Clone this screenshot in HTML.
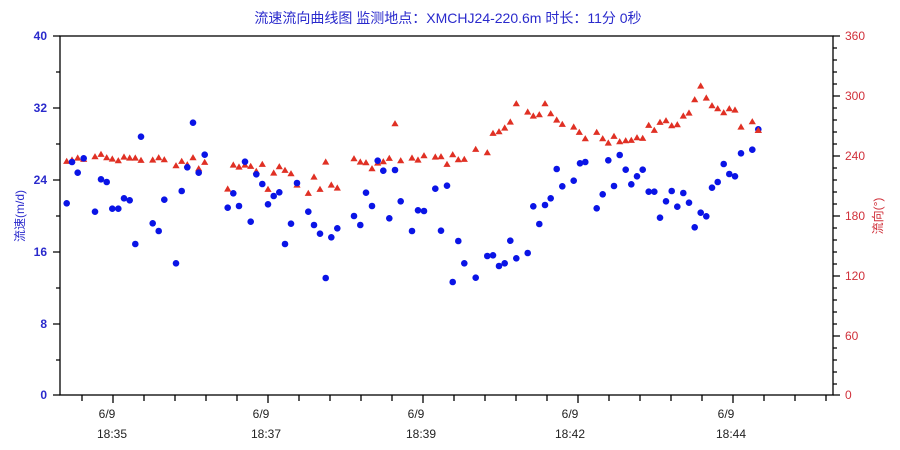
<!DOCTYPE html>
<html><head><meta charset="utf-8"><style>
html,body{margin:0;padding:0;background:#fff;width:900px;height:450px;overflow:hidden}
text{font-family:"Liberation Sans","Noto Sans CJK SC",sans-serif}
</style></head><body>
<svg width="900" height="450" xmlns="http://www.w3.org/2000/svg">
<defs>
<circle id="b" r="3.3" fill="#0a14e6"/>
<polygon id="t" points="0,-3.6 3.6,2.6 -3.6,2.6" fill="#e03024"/>
</defs>
<text x="448" y="23" text-anchor="middle" font-size="14" fill="#2a2acc">流速流向曲线图 监测地点：XMCHJ24-220.6m  时长：11分 0秒</text>
<g stroke="#000" stroke-width="1.3" fill="none">
<rect x="60" y="36" width="773" height="359"/>
<path d="M53,36H60M53,108H60M53,180H60M53,252H60M53,324H60M53,395H60M56,72H60M56,144H60M56,216H60M56,288H60M56,360H60"/>
<path d="M833,36H840M833,96H840M833,156H840M833,216H840M833,276H840M833,336H840M833,395H840"/>
<path d="M833,48H837M833,60H837M833,72H837M833,84H837M833,108H837M833,120H837M833,132H837M833,144H837M833,168H837M833,180H837M833,192H837M833,204H837M833,228H837M833,240H837M833,252H837M833,264H837M833,288H837M833,300H837M833,312H837M833,324H837M833,348H837M833,360H837M833,372H837M833,384H837"/>
<path d="M82,395V401M113,395V403M144,395V401M175,395V401M206,395V401M237,395V401M268,395V403M299,395V401M330,395V401M361,395V401M392,395V401M423,395V403M454,395V401M485,395V401M516,395V401M547,395V401M578,395V403M609,395V401M640,395V401M671,395V401M702,395V401M733,395V403M764,395V401M795,395V401M826,395V401"/>
</g>
<g font-size="12" font-weight="bold" fill="#2a2acc" text-anchor="end">
<text x="47" y="40">40</text><text x="47" y="112">32</text><text x="47" y="184">24</text><text x="47" y="256">16</text><text x="47" y="328">8</text><text x="47" y="399">0</text>
</g>
<g font-size="12" fill="#d0303a">
<text x="845" y="40">360</text><text x="845" y="100">300</text><text x="845" y="160">240</text><text x="845" y="220">180</text><text x="845" y="280">120</text><text x="845" y="340">60</text><text x="845" y="399">0</text>
</g>
<text transform="translate(24,216) rotate(-90)" text-anchor="middle" font-size="12" fill="#2a2acc">流速(m/d)</text>
<text transform="translate(882,216) rotate(-90)" text-anchor="middle" font-size="12" fill="#d0303a">流向(°)</text>
<g font-size="12" fill="#222" text-anchor="middle">
<text x="107" y="418">6/9</text><text x="112" y="438">18:35</text>
<text x="261" y="418">6/9</text><text x="266" y="438">18:37</text>
<text x="416" y="418">6/9</text><text x="421" y="438">18:39</text>
<text x="570" y="418">6/9</text><text x="570" y="438">18:42</text>
<text x="726" y="418">6/9</text><text x="731" y="438">18:44</text>
</g>
<g>
<use href="#t" x="66.7" y="161.3"/><use href="#t" x="72" y="160"/><use href="#t" x="77.7" y="158"/><use href="#t" x="83.7" y="159.3"/><use href="#t" x="95" y="156.7"/><use href="#t" x="101" y="154.3"/><use href="#t" x="106.7" y="157.7"/><use href="#t" x="112.3" y="159"/><use href="#t" x="118.3" y="160.7"/><use href="#t" x="124" y="157"/><use href="#t" x="129.7" y="158"/><use href="#t" x="135.3" y="158"/><use href="#t" x="141" y="160.3"/><use href="#t" x="152.7" y="160"/><use href="#t" x="158.7" y="157.7"/><use href="#t" x="164.3" y="159.7"/><use href="#t" x="176" y="165.7"/><use href="#t" x="181.7" y="161.3"/><use href="#t" x="187.3" y="164.7"/><use href="#t" x="193" y="157.7"/><use href="#t" x="198.7" y="168.7"/><use href="#t" x="204.7" y="162.3"/>
<use href="#t" x="227.7" y="189"/><use href="#t" x="233.3" y="165"/><use href="#t" x="239" y="167"/><use href="#t" x="245" y="165"/><use href="#t" x="250.7" y="166.3"/><use href="#t" x="256.3" y="171.3"/><use href="#t" x="262.3" y="164.3"/><use href="#t" x="268" y="189.3"/><use href="#t" x="273.7" y="173"/><use href="#t" x="279.3" y="166.7"/><use href="#t" x="285" y="170.3"/><use href="#t" x="291" y="173.7"/><use href="#t" x="297" y="185"/><use href="#t" x="308.3" y="193.3"/><use href="#t" x="314" y="177"/><use href="#t" x="320" y="189.3"/><use href="#t" x="325.7" y="162"/><use href="#t" x="331.3" y="185"/><use href="#t" x="337.3" y="188"/><use href="#t" x="354" y="158.7"/>
<use href="#t" x="360.3" y="162"/><use href="#t" x="366" y="162.7"/><use href="#t" x="372" y="168.7"/><use href="#t" x="377.7" y="163"/><use href="#t" x="383.3" y="161.7"/><use href="#t" x="389.3" y="158.3"/><use href="#t" x="395" y="123.7"/><use href="#t" x="400.7" y="160.7"/><use href="#t" x="412" y="158"/><use href="#t" x="418" y="160"/><use href="#t" x="424" y="155.7"/><use href="#t" x="435.3" y="157"/><use href="#t" x="441" y="156.7"/><use href="#t" x="447" y="164.3"/><use href="#t" x="452.7" y="154.7"/><use href="#t" x="458.3" y="159.7"/><use href="#t" x="464.3" y="159.3"/><use href="#t" x="475.7" y="149.3"/><use href="#t" x="487.3" y="152.7"/><use href="#t" x="493" y="133.3"/><use href="#t" x="499" y="131.7"/><use href="#t" x="504.7" y="128"/><use href="#t" x="510.3" y="122"/><use href="#t" x="516.3" y="103.7"/><use href="#t" x="527.7" y="112"/><use href="#t" x="533.3" y="116"/><use href="#t" x="539.3" y="114.7"/><use href="#t" x="545" y="103.7"/><use href="#t" x="550.7" y="113.7"/><use href="#t" x="556.7" y="120"/><use href="#t" x="562.3" y="124.3"/><use href="#t" x="573.7" y="127"/><use href="#t" x="579.3" y="132.3"/><use href="#t" x="585.3" y="138.7"/>
<use href="#t" x="596.7" y="132.3"/><use href="#t" x="602.7" y="138.7"/><use href="#t" x="608.3" y="143"/><use href="#t" x="614" y="136.3"/><use href="#t" x="619.7" y="141.7"/><use href="#t" x="625.7" y="140.7"/><use href="#t" x="631.3" y="140.3"/><use href="#t" x="637" y="137.7"/><use href="#t" x="642.7" y="138.3"/><use href="#t" x="648.7" y="125.3"/><use href="#t" x="654.3" y="130.3"/><use href="#t" x="660" y="122.3"/><use href="#t" x="666" y="120.7"/><use href="#t" x="671.7" y="125.7"/><use href="#t" x="677.3" y="124.7"/><use href="#t" x="683.3" y="116"/><use href="#t" x="689" y="113"/><use href="#t" x="694.7" y="99.7"/><use href="#t" x="700.7" y="86"/><use href="#t" x="706.3" y="98"/><use href="#t" x="712" y="105.7"/><use href="#t" x="717.7" y="108.7"/><use href="#t" x="723.7" y="112.7"/><use href="#t" x="729.3" y="108.7"/><use href="#t" x="735" y="110"/><use href="#t" x="741" y="127"/><use href="#t" x="752.3" y="121.7"/><use href="#t" x="758.3" y="130.3"/>
</g>
<g>
<use href="#b" x="66.7" y="203.3"/><use href="#b" x="72" y="162"/><use href="#b" x="77.7" y="172.7"/><use href="#b" x="83.7" y="158.3"/><use href="#b" x="95" y="211.7"/><use href="#b" x="101" y="179.3"/><use href="#b" x="106.7" y="182"/><use href="#b" x="112.3" y="208.7"/><use href="#b" x="118.3" y="208.7"/><use href="#b" x="124" y="198.3"/><use href="#b" x="129.7" y="200.3"/><use href="#b" x="135.3" y="244"/><use href="#b" x="141" y="136.7"/><use href="#b" x="152.7" y="223.3"/><use href="#b" x="158.7" y="231"/><use href="#b" x="164.3" y="199.7"/><use href="#b" x="176" y="263.3"/><use href="#b" x="181.7" y="191"/><use href="#b" x="193" y="122.7"/><use href="#b" x="187.3" y="167.3"/><use href="#b" x="198.7" y="172.7"/><use href="#b" x="204.7" y="154.7"/>
<use href="#b" x="227.7" y="207.7"/><use href="#b" x="233.3" y="193.3"/><use href="#b" x="239" y="206"/><use href="#b" x="245" y="161.7"/><use href="#b" x="250.7" y="221.7"/><use href="#b" x="256.3" y="174.3"/><use href="#b" x="262.3" y="184"/><use href="#b" x="268" y="204.3"/><use href="#b" x="273.7" y="196"/><use href="#b" x="279.3" y="192.3"/><use href="#b" x="285" y="244"/><use href="#b" x="291" y="223.7"/><use href="#b" x="297" y="183"/><use href="#b" x="308.3" y="211.7"/><use href="#b" x="314" y="225"/><use href="#b" x="320" y="233.7"/><use href="#b" x="325.7" y="278"/><use href="#b" x="331.3" y="237.3"/><use href="#b" x="337.3" y="228.3"/><use href="#b" x="354" y="216"/>
<use href="#b" x="360.3" y="225"/><use href="#b" x="366" y="192.7"/><use href="#b" x="372" y="206"/><use href="#b" x="377.7" y="160.7"/><use href="#b" x="383.3" y="170.7"/><use href="#b" x="389.3" y="218.3"/><use href="#b" x="395" y="170"/><use href="#b" x="400.7" y="201.3"/><use href="#b" x="412" y="231"/><use href="#b" x="418" y="210.3"/><use href="#b" x="424" y="211"/><use href="#b" x="435.3" y="188.7"/><use href="#b" x="441" y="230.7"/><use href="#b" x="447" y="185.7"/><use href="#b" x="452.7" y="282"/><use href="#b" x="458.3" y="241"/><use href="#b" x="464.3" y="263.3"/><use href="#b" x="475.7" y="277.7"/><use href="#b" x="487.3" y="256"/><use href="#b" x="493" y="255.3"/><use href="#b" x="499" y="266"/><use href="#b" x="504.7" y="263.3"/><use href="#b" x="510.3" y="240.7"/><use href="#b" x="516.3" y="258.3"/><use href="#b" x="527.7" y="253"/><use href="#b" x="533.3" y="206.3"/><use href="#b" x="539.3" y="224"/><use href="#b" x="545" y="205"/><use href="#b" x="550.7" y="198.3"/><use href="#b" x="556.7" y="169"/><use href="#b" x="562.3" y="186.3"/><use href="#b" x="573.7" y="180.7"/><use href="#b" x="580" y="163.3"/><use href="#b" x="585.3" y="162"/>
<use href="#b" x="596.7" y="208.3"/><use href="#b" x="602.7" y="194.3"/><use href="#b" x="608.3" y="160.3"/><use href="#b" x="614" y="186"/><use href="#b" x="619.7" y="155"/><use href="#b" x="625.7" y="169.7"/><use href="#b" x="631.3" y="184.3"/><use href="#b" x="637" y="176.3"/><use href="#b" x="642.7" y="169.7"/><use href="#b" x="648.7" y="191.7"/><use href="#b" x="654.3" y="191.7"/><use href="#b" x="660" y="217.7"/><use href="#b" x="666" y="201.3"/><use href="#b" x="671.7" y="191"/><use href="#b" x="677.3" y="206.7"/><use href="#b" x="683.3" y="193"/><use href="#b" x="689" y="202.7"/><use href="#b" x="694.7" y="227.3"/><use href="#b" x="700.7" y="212.7"/><use href="#b" x="706.3" y="216.3"/><use href="#b" x="712" y="187.7"/><use href="#b" x="717.7" y="182"/><use href="#b" x="723.7" y="164"/><use href="#b" x="729.3" y="174"/><use href="#b" x="735" y="176.3"/><use href="#b" x="741" y="153.3"/><use href="#b" x="752.3" y="149.7"/><use href="#b" x="758.3" y="129.3"/>
</g>
<use href="#t" x="758.3" y="130.3"/>
</svg>
</body></html>
